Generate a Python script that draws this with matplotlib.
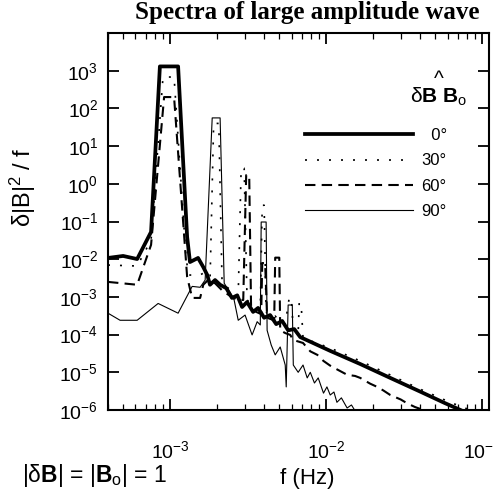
import matplotlib
matplotlib.use("Agg")
import matplotlib.pyplot as plt

plt.rcParams['font.family'] = ['Liberation Sans', 'DejaVu Sans']
plt.rcParams['mathtext.fontset'] = 'custom'
plt.rcParams['mathtext.rm'] = 'Liberation Sans'
plt.rcParams['mathtext.bf'] = 'Liberation Sans:bold'
plt.rcParams['mathtext.it'] = 'Liberation Sans:italic'
plt.rcParams['axes.unicode_minus'] = False

# angle between dB and Bo -> (f [Hz], dB^2/f)
f_0 = [4.0e-4, 5.0e-4, 6.15e-4, 7.55e-4, 8.6e-4, 1.125e-3, 1.285e-3, 1.34e-3,
       1.51e-3, 1.63e-3, 1.73e-3, 1.80e-3, 1.94e-3, 2.09e-3, 2.29e-3, 2.49e-3,
       2.69e-3, 2.89e-3, 3.11e-3, 3.4e-3, 3.66e-3, 4.0e-3, 4.37e-3, 4.78e-3,
       5.22e-3, 5.7e-3, 6.24e-3, 6.81e-3, 0.0106, 0.0165, 0.0257, 0.0398,
       0.058, 0.0724, 0.0899]
p_0 = [0.0108, 0.0122, 0.0101, 0.053, 1300, 1300, 0.039, 0.0084,
       0.0108, 0.0062, 0.0038, 0.0021, 0.0028, 0.0021, 0.0017, 0.00094,
       0.0011, 0.00054, 0.00073, 0.0004, 0.00051, 0.00028, 0.00033, 0.00019,
       0.00023, 0.00013, 0.00014, 8.6e-5, 3.7e-5, 1.66e-5, 7.1e-6, 3.1e-6,
       1.5e-6, 1e-6, 6.5e-7]

f_30 = [4.0e-4, 6.15e-4, 7.55e-4, 9.0e-4, 1.06e-3, 1.267e-3, 1.324e-3, 1.557e-3,
        1.676e-3, 1.80e-3, 1.90e-3, 2.05e-3, 2.15e-3, 2.29e-3, 2.53e-3, 2.73e-3,
        2.85e-3, 2.98e-3, 3.11e-3, 3.35e-3, 3.61e-3, 3.78e-3, 3.89e-3, 4.0e-3,
        4.12e-3, 4.37e-3, 4.71e-3, 5.07e-3, 5.46e-3, 5.79e-3, 5.97e-3, 6.15e-3,
        6.61e-3, 6.71e-3, 6.9e-3, 7.1e-3, 0.0106, 0.0165, 0.0257, 0.0398,
        0.0621, 0.0836, 0.10]
p_30 = [0.0070, 0.0066, 0.032, 680, 680, 0.0095, 0.0038, 0.0038,
        0.0046, 0.0023, 40, 40, 0.0026, 0.0019, 0.0013, 0.0011,
        2.6, 2.6, 0.00083, 0.00061, 0.00048, 0.00051, 0.27, 0.27,
        0.0004, 0.00028, 0.00031, 0.00022, 0.00019, 0.00094, 0.00094, 0.00013,
        0.00011, 0.00069, 0.00069, 8.1e-5, 4.4e-5, 2.0e-5, 8.5e-6, 3.6e-6,
        1.6e-6, 1e-6, 7e-7]

f_60 = [4.0e-4, 6.15e-4, 7.55e-4, 9.15e-4, 1.06e-3, 1.285e-3, 1.384e-3, 1.557e-3,
        1.63e-3, 1.75e-3, 1.94e-3, 2.15e-3, 2.42e-3, 2.69e-3, 2.94e-3, 3.07e-3,
        3.21e-3, 3.3e-3, 3.56e-3, 3.83e-3, 3.89e-3, 4.06e-3, 4.18e-3, 4.64e-3,
        4.71e-3, 5.0e-3, 5.07e-3, 5.46e-3, 5.88e-3, 6.15e-3, 7.1e-3, 7.9e-3,
        8.77e-3, 9.6e-3, 0.0106, 0.0117, 0.0136, 0.0153, 0.0165, 0.0191,
        0.0212, 0.0232, 0.0257, 0.030, 0.033, 0.037, 0.0418, 0.0537]
p_60 = [0.0025, 0.0021, 0.024, 200, 200, 0.0034, 0.00094, 0.00094,
        0.0021, 0.0028, 0.0023, 0.0015, 0.00106, 0.00083, 0.00083, 1.7,
        1.7, 0.00051, 0.0004, 0.00035, 0.0079, 0.0079, 0.00028, 0.00024,
        0.011, 0.011, 0.00013, 0.00011, 9.8e-5, 7.2e-5, 6.0e-5, 3.6e-5,
        2.9e-5, 2.0e-5, 1.5e-5, 1.2e-5, 8.6e-6, 8.0e-6, 7.1e-6, 5.0e-6,
        4.1e-6, 3.3e-6, 2.5e-6, 1.9e-6, 1.5e-6, 1.2e-6, 1e-6, 6.5e-7]

f_90 = [4.0e-4, 4.78e-4, 6.15e-4, 8.38e-4, 1.125e-3, 1.384e-3, 1.557e-3, 1.676e-3,
        1.86e-3, 2.09e-3, 2.22e-3, 2.42e-3, 2.57e-3, 2.73e-3, 3.02e-3, 3.35e-3,
        3.61e-3, 3.78e-3, 3.83e-3, 4.12e-3, 4.18e-3, 4.44e-3, 4.71e-3, 5.07e-3,
        5.46e-3, 5.54e-3, 5.7e-3, 6.06e-3, 6.15e-3, 6.61e-3, 7.1e-3, 7.55e-3,
        7.9e-3, 8.4e-3, 8.88e-3, 9.6e-3, 0.0101, 0.0106, 0.0112, 0.0117,
        0.0125, 0.0136, 0.0145, 0.0156, 0.0178]
p_90 = [3.7e-4, 2.4e-4, 2.4e-4, 0.00067, 0.00037, 0.0019, 0.0018, 0.0028,
        56, 56, 0.0023, 0.0013, 0.00083, 0.00024, 0.00033, 9.8e-5,
        0.00022, 0.00018, 0.097, 0.097, 0.00013, 5.3e-5, 2.9e-5, 4.7e-5,
        1.56e-5, 4.1e-6, 0.00061, 0.00061, 1.56e-5, 1.0e-5, 1.56e-5, 7.1e-6,
        1.0e-5, 5.2e-6, 7.1e-6, 2.8e-6, 4.1e-6, 2.5e-6, 3.0e-6, 1.6e-6,
        2.1e-6, 1.13e-6, 1.36e-6, 8.3e-7, 5.4e-7]

labels = ["\u20070°", "30°", "60°", "90°"]

fig = plt.figure(figsize=(4.94, 4.98), dpi=100)
ax = fig.add_axes([0.2186, 0.1767, 0.771, 0.757])

l0, = ax.plot(f_0, p_0, color="black", lw=2.7, label=labels[0])
l30, = ax.plot(f_30, p_30, color="black", lw=1.2, linestyle=(0, (1.2, 6)), label=labels[1])
l60, = ax.plot(f_60, p_60, color="black", lw=1.5, linestyle=(0, (5, 3)), label=labels[2])
l90, = ax.plot(f_90, p_90, color="black", lw=0.8, label=labels[3])

ax.set_xscale("log")
ax.set_yscale("log")
ax.set_xlim(4.0e-4, 0.11)
ax.set_ylim(1e-6, 1e4)
ax.set_yticks([1e-6, 1e-5, 1e-4, 1e-3, 1e-2, 1e-1, 1e0, 1e1, 1e2, 1e3])

for s in ax.spines.values():
    s.set_linewidth(1.5)
ax.tick_params(which="both", direction="in", top=True, right=True, labelsize=14)
ax.tick_params(which="major", length=8, width=1.3)
ax.tick_params(which="minor", length=4, width=0.9)
ax.tick_params(axis="x", which="major", pad=22)
ax.tick_params(axis="y", which="major", pad=7)

ax.set_xlabel("f (Hz)", fontsize=16)
ax.xaxis.set_label_coords(0.522, -0.155)
ax.set_ylabel("δ|B|$^2$ / f", fontsize=17)
ax.yaxis.set_label_coords(-0.185, 0.59)
fig.suptitle("Spectra of large amplitude wave", x=0.622, y=0.998,
             fontsize=18, fontweight="bold", family="Liberation Serif")

fig.text(0.044, 0.033, "|δ$\\mathbf{B}$| = |$\\mathbf{B}_\\mathrm{o}$| = 1",
         fontsize=16.5)

leg = ax.legend(handles=[l0, l30, l60, l90], loc="upper left",
                bbox_to_anchor=(0.517, 0.748), frameon=False, fontsize=12,
                handlelength=6.5, handletextpad=0.5, labelspacing=0.62,
                borderpad=0, borderaxespad=0)
# angle header: hat over "dB Bo"
ax.text(0.868, 0.8, "^\nδ$\\mathbf{B}$ $\\mathbf{B}_\\mathrm{o}$", transform=ax.transAxes,
        ha="center", va="bottom", multialignment="center", fontsize=15,
        linespacing=0.85)

fig.savefig("out.png", dpi=100)
